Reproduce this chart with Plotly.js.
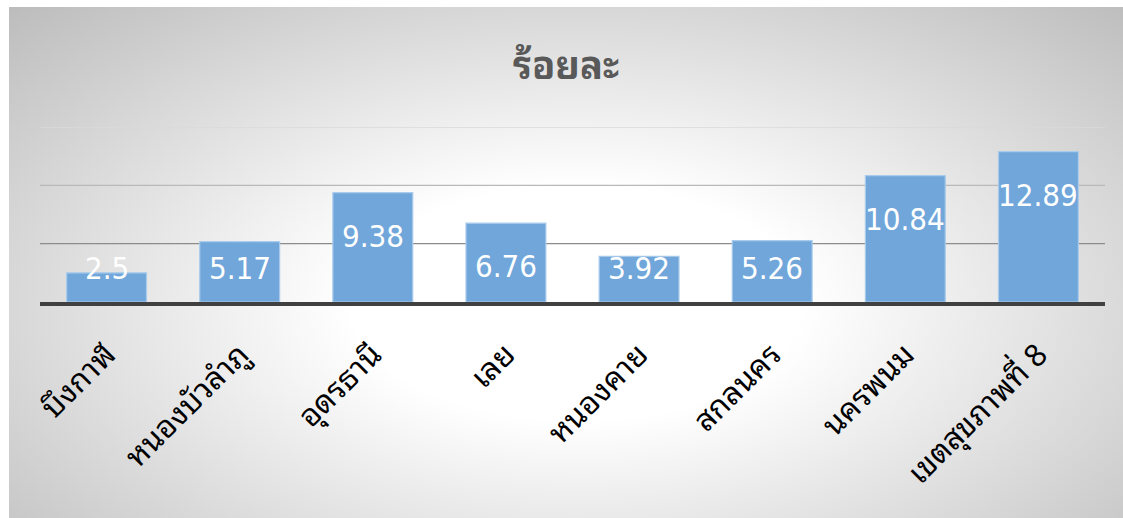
<!DOCTYPE html>
<html>
<head>
<meta charset="utf-8">
<script src="https://cdn.plot.ly/plotly-3.0.1.min.js"></script>
<style>
  html, body { margin: 0; padding: 0; background: #ffffff; width: 1123px; height: 518px; overflow: hidden; }
  #frame {
    position: absolute; left: 9px; top: 7px; width: 1114px; height: 511px;
    background: radial-gradient(ellipse farthest-corner at 51% 58%, #ffffff 28%, #bcbcbc 100%);
  }
  #chart { width: 1114px; height: 511px; }
</style>
</head>
<body>
<div id="frame"><div id="chart"></div></div>
<script>
const categories = ['บึงกาฬ', 'หนองบัวลำภู', 'อุดรธานี', 'เลย', 'หนองคาย', 'สกลนคร', 'นครพนม', 'เขตสุขภาพที่ 8'];
const values = [2.5, 5.17, 9.38, 6.76, 3.92, 5.26, 10.84, 12.89];
const gridValues = [5, 10, 15];
const gridColors = ['#8c8c8c', '#b9b9b9', '#dadada'];
const titleText = 'ร้อยละ';

const thaiFont = 'Noto Sans Thai Looped, Noto Sans Thai UI, Noto Sans, sans-serif';

const barTrace = {
  type: 'bar',
  x: categories,
  y: values,
  marker: { color: '#70a6da', line: { color: '#a9cbec', width: 1.2 } },
  hoverinfo: 'skip'
};

const labelAnnotations = categories.map((c, i) => ({
  x: c,
  y: Math.max(values[i] - 3.7, 2.9),
  xref: 'x', yref: 'y',
  text: String(values[i]),
  showarrow: false,
  yanchor: 'middle',
  font: { family: 'DejaVu Sans Condensed, DejaVu Sans, sans-serif', size: 31, color: '#ffffff' }
}));

const gridShapes = gridValues.map((v, i) => ({
  type: 'line', xref: 'paper', yref: 'y',
  x0: 0, x1: 1, y0: v, y1: v,
  line: { color: gridColors[i], width: 1.3 },
  layer: 'below'
}));

const layout = {
  width: 1114, height: 511,
  paper_bgcolor: 'rgba(0,0,0,0)', plot_bgcolor: 'rgba(0,0,0,0)',
  margin: { l: 31, r: 18, t: 120, b: 216 },
  showlegend: false,
  bargap: 0.4,
  title: {
    text: titleText,
    font: { family: thaiFont, size: 38, color: '#595959', weight: 'bold' },
    x: 0.5, xanchor: 'center', y: 0.885, yanchor: 'middle'
  },
  xaxis: {
    type: 'category',
    tickangle: -45,
    ticks: '',
    ticklabelstandoff: 18,
    tickfont: { family: thaiFont, size: 31, color: '#000000' },
    showline: true, linecolor: '#404040', linewidth: 4,
    showgrid: false, zeroline: false, fixedrange: true
  },
  yaxis: {
    range: [0, 15], showticklabels: false, ticks: '',
    showgrid: false, zeroline: false, fixedrange: true
  },
  shapes: gridShapes,
  annotations: labelAnnotations
};

Plotly.newPlot('chart', [barTrace], layout, { displayModeBar: false, staticPlot: true });
</script>
</body>
</html>
